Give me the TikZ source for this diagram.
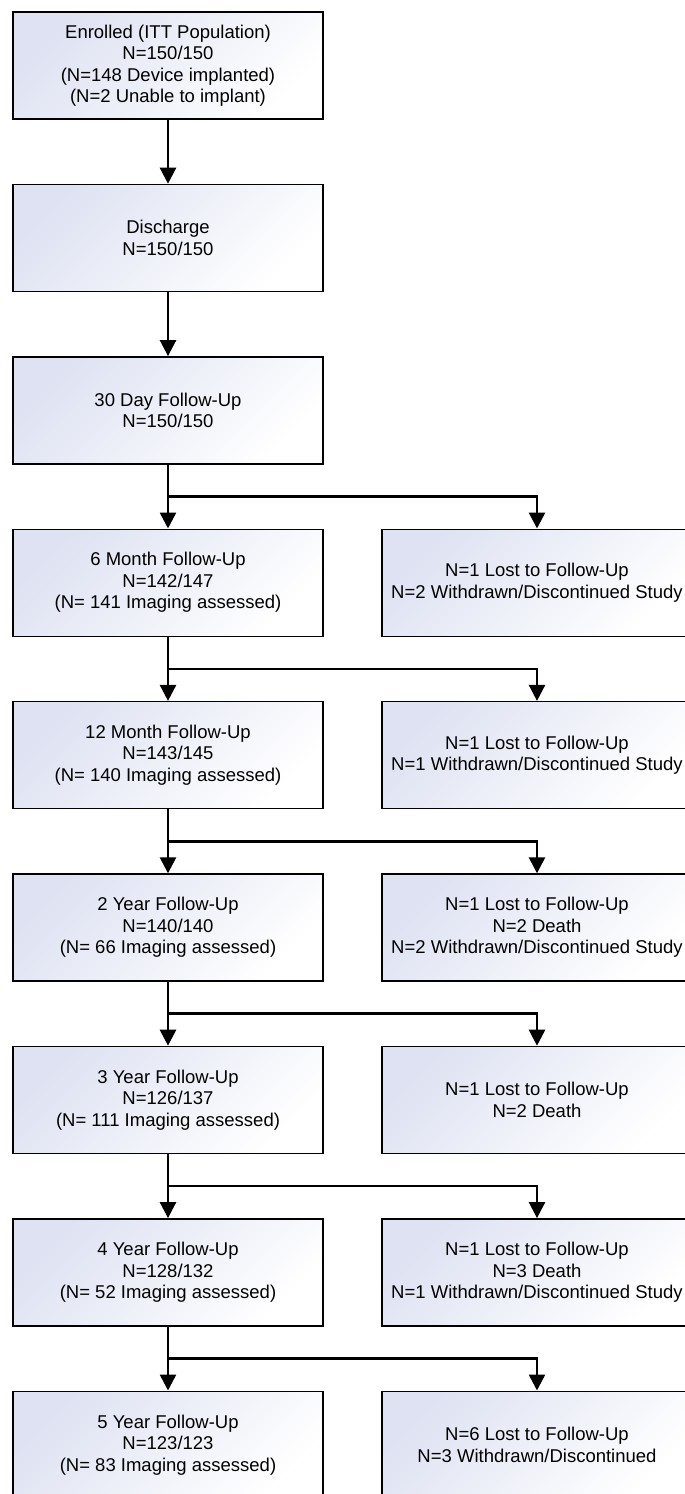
\documentclass[tikz,border=0pt]{standalone}
\usepackage{fontspec}
\setmainfont{Liberation Sans}
\usetikzlibrary{arrows.meta}
\definecolor{boxtint}{RGB}{222,226,242}
\tikzset{
  stagebox/.style={draw=black, line width=1.4pt, top color=boxtint, bottom color=white,
    shading angle=45, minimum width=310pt, minimum height=107pt, inner sep=0pt,
    align=center, font=\fontsize{18.5}{21.5}\selectfont},
  flow/.style={line width=2.6pt, -{Triangle[width=16pt,length=16pt]}}
}
\begin{document}
\begin{tikzpicture}[x=1pt,y=-1pt]
		\useasboundingbox (0,0) rectangle (685,1494);
		\clip (0,0) rectangle (685,1494);
		
		% left column
		\node[stagebox] (enr) at (168,65.5) {Enrolled (ITT Population)\\N=150/150\\(N=148 Device implanted)\\(N=2 Unable to implant)};
		\node[stagebox] (dis) at (168,237.9) {Discharge\\N=150/150};
		\node[stagebox] (d30) at (168,410.3) {30 Day Follow-Up\\N=150/150};
		\node[stagebox] (m6) at (168,582.7) {6 Month Follow-Up\\N=142/147\\(N= 141 Imaging assessed)};
		\node[stagebox] (m12) at (168,755.1) {12 Month Follow-Up\\N=143/145\\(N= 140 Imaging assessed)};
		\node[stagebox] (y2) at (168,927.5) {2 Year Follow-Up\\N=140/140\\(N= 66 Imaging assessed)};
		\node[stagebox] (y3) at (168,1099.9) {3 Year Follow-Up\\N=126/137\\(N= 111 Imaging assessed)};
		\node[stagebox] (y4) at (168,1272.3) {4 Year Follow-Up\\N=128/132\\(N= 52 Imaging assessed)};
		\node[stagebox] (y5) at (168,1444.7) {5 Year Follow-Up\\N=123/123\\(N= 83 Imaging assessed)};
		
		% right column
		\node[stagebox] (lm6) at (537,582.7) {N=1 Lost to Follow-Up\\N=2 Withdrawn/Discontinued Study};
		\node[stagebox] (lm12) at (537,755.1) {N=1 Lost to Follow-Up\\N=1 Withdrawn/Discontinued Study};
		\node[stagebox] (ly2) at (537,927.5) {N=1 Lost to Follow-Up\\N=2 Death\\N=2 Withdrawn/Discontinued Study};
		\node[stagebox] (ly3) at (537,1099.9) {N=1 Lost to Follow-Up\\N=2 Death};
		\node[stagebox] (ly4) at (537,1272.3) {N=1 Lost to Follow-Up\\N=3 Death\\N=1 Withdrawn/Discontinued Study};
		\node[stagebox] (ly5) at (537,1444.7) {N=6 Lost to Follow-Up\\N=3 Withdrawn/Discontinued};
		
		% branch points
		\coordinate (bm6) at (168,496.5);
		\coordinate (bm12) at (168,668.9);
		\coordinate (by2) at (168,841.3);
		\coordinate (by3) at (168,1013.7);
		\coordinate (by4) at (168,1186.1);
		\coordinate (by5) at (168,1358.5);
		
		\draw[flow] (enr) -- (dis);
		\draw[flow] (dis) -- (d30);
		\draw[flow] (d30) -- (m6);
		\draw[flow] (m6) -- (m12);
		\draw[flow] (m12) -- (y2);
		\draw[flow] (y2) -- (y3);
		\draw[flow] (y3) -- (y4);
		\draw[flow] (y4) -- (y5);
		
		\draw[flow] (bm6) -| (lm6);
		\draw[flow] (bm12) -| (lm12);
		\draw[flow] (by2) -| (ly2);
		\draw[flow] (by3) -| (ly3);
		\draw[flow] (by4) -| (ly4);
		\draw[flow] (by5) -| (ly5);
	\end{tikzpicture}
\end{document}
